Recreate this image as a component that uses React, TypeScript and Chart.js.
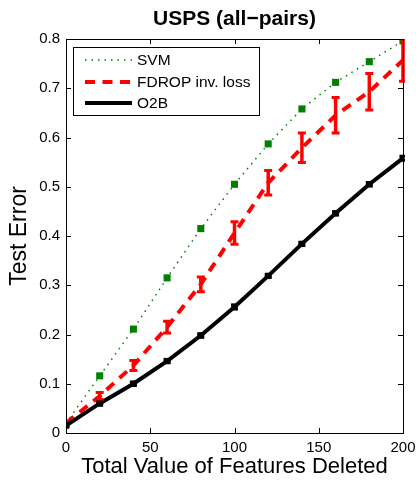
import React, { useEffect, useRef } from "react";
import { Chart, registerables } from "chart.js";

Chart.register(...registerables);

const xValues = [0, 20, 40, 60, 80, 100, 120, 140, 160, 180, 200];
const svmValues = [0.02, 0.116, 0.211, 0.315, 0.415, 0.505, 0.587, 0.658, 0.712, 0.754, 0.796];
const fdropValues = [0.02, 0.075, 0.137, 0.215, 0.302, 0.406, 0.508, 0.579, 0.645, 0.693, 0.757];
const fdropErr = [0, 0.007, 0.01, 0.012, 0.015, 0.023, 0.025, 0.03, 0.036, 0.037, 0.043];
const o2bValues = [0.015, 0.06, 0.1, 0.146, 0.198, 0.256, 0.319, 0.384, 0.446, 0.505, 0.558];
const o2bErr = [0.002, 0.003, 0.003, 0.003, 0.003, 0.004, 0.003, 0.003, 0.003, 0.003, 0.004];
const seriesLabels = ["SVM", "FDROP inv. loss", "O2B"];
const titleText = "USPS (all\u2212pairs)";
const xTitle = "Total Value of Features Deleted";
const yTitle = "Test Error";

const FONT = "'Liberation Sans', Arial, Helvetica, sans-serif";
const GREEN = "rgb(0,128,0)";
const RED = "rgb(255,0,0)";

const errorBarPlugin = {
  id: "errorBars",
  afterDatasetsDraw(chart: any) {
    const { ctx, scales, chartArea } = chart;
    const xs = scales.x;
    const ys = scales.y;
    ctx.save();
    ctx.beginPath();
    ctx.rect(chartArea.left, chartArea.top, chartArea.right - chartArea.left + 2, chartArea.bottom - chartArea.top + 2);
    ctx.clip();
    const drawBars = (vals: number[], errs: number[], color: string, lw: number, cap: number) => {
      ctx.strokeStyle = color;
      for (let i = 0; i < xValues.length; i++) {
        if (!errs[i]) continue;
        const px = xs.getPixelForValue(xValues[i]);
        const yHi = ys.getPixelForValue(vals[i] + errs[i]);
        const yLo = ys.getPixelForValue(vals[i] - errs[i]);
        ctx.lineWidth = lw;
        ctx.beginPath();
        ctx.moveTo(px, yHi);
        ctx.lineTo(px, yLo);
        ctx.stroke();
        ctx.lineWidth = 3;
        ctx.beginPath();
        ctx.moveTo(px - cap, yHi);
        ctx.lineTo(px + cap, yHi);
        ctx.moveTo(px - cap, yLo);
        ctx.lineTo(px + cap, yLo);
        ctx.stroke();
      }
    };
    drawBars(fdropValues, fdropErr, RED, 3.5, 4);
    drawBars(o2bValues, o2bErr, "#000", 2.5, 3.5);
    ctx.restore();
  },
};

const framePlugin = {
  id: "frame",
  afterDraw(chart: any) {
    const { ctx, scales, chartArea } = chart;
    const { left, right, top, bottom } = chartArea;
    ctx.save();
    // title centred over the plot area
    ctx.fillStyle = "#000";
    ctx.font = `bold 21px ${FONT}`;
    ctx.textAlign = "center";
    ctx.textBaseline = "alphabetic";
    ctx.fillText(titleText, (left + right) / 2, 25);

    ctx.strokeStyle = "#000";
    ctx.lineWidth = 1;
    ctx.strokeRect(Math.round(left) + 0.5, Math.round(top) + 0.5, Math.round(right - left), Math.round(bottom - top));
    const tl = 5;
    ctx.beginPath();
    scales.x.ticks.forEach((t: any) => {
      const px = Math.round(scales.x.getPixelForValue(t.value)) + 0.5;
      ctx.moveTo(px, bottom);
      ctx.lineTo(px, bottom - tl);
      ctx.moveTo(px, top);
      ctx.lineTo(px, top + tl);
    });
    scales.y.ticks.forEach((t: any) => {
      const py = Math.round(scales.y.getPixelForValue(t.value)) + 0.5;
      ctx.moveTo(left, py);
      ctx.lineTo(left + tl, py);
      ctx.moveTo(right, py);
      ctx.lineTo(right - tl, py);
    });
    ctx.stroke();

    // legend
    const bx = 73.5, by = 47.5, bw = 186, bh = 68;
    ctx.fillStyle = "#fff";
    ctx.fillRect(bx, by, bw, bh);
    ctx.strokeRect(bx, by, bw, bh);
    const rows = [60, 82, 103];
    const styles = [
      { color: GREEN, width: 1.5, dash: [1.5, 5] },
      { color: RED, width: 4, dash: [10, 7.5] },
      { color: "#000", width: 4, dash: [] as number[] },
    ];
    ctx.font = `15.5px ${FONT}`;
    ctx.textBaseline = "middle";
    ctx.textAlign = "left";
    rows.forEach((ry, i) => {
      const s = styles[i];
      ctx.strokeStyle = s.color;
      ctx.lineWidth = s.width;
      ctx.setLineDash(s.dash);
      ctx.beginPath();
      ctx.moveTo(85, ry);
      ctx.lineTo(132, ry);
      ctx.stroke();
      ctx.setLineDash([]);
      ctx.fillStyle = "#000";
      ctx.fillText(seriesLabels[i], 137, ry + 1);
    });
    ctx.restore();
  },
};

export default function App() {
  const canvasRef = useRef<HTMLCanvasElement>(null);

  useEffect(() => {
    const canvas = canvasRef.current;
    if (!canvas) return;
    const chart = new Chart(canvas, {
      type: "line",
      data: {
        datasets: [
          {
            label: seriesLabels[0],
            data: xValues.map((x, i) => ({ x, y: svmValues[i] })),
            borderColor: GREEN,
            backgroundColor: GREEN,
            borderWidth: 1.5,
            borderDash: [1.5, 5],
            pointStyle: "rect",
            pointRadius: xValues.map((x) => (x === 0 ? 0 : 5)),
            pointBorderWidth: 0,
            tension: 0,
            order: 3,
          },
          {
            label: seriesLabels[1],
            data: xValues.map((x, i) => ({ x, y: fdropValues[i] })),
            borderColor: RED,
            backgroundColor: RED,
            borderWidth: 4,
            borderDash: [10, 7.5],
            pointRadius: 0,
            tension: 0,
            order: 2,
          },
          {
            label: seriesLabels[2],
            data: xValues.map((x, i) => ({ x, y: o2bValues[i] })),
            borderColor: "#000",
            backgroundColor: "#000",
            borderWidth: 4,
            pointStyle: "rect",
            pointRadius: 4.5,
            pointBorderWidth: 0,
            tension: 0,
            order: 1,
          },
        ],
      },
      options: {
        responsive: false,
        animation: false,
        devicePixelRatio: 1,
        layout: { padding: { top: 39, right: 17, left: 0, bottom: 0 } },
        plugins: {
          legend: { display: false },
          tooltip: { enabled: false },
          title: { display: false },
        },
        scales: {
          x: {
            type: "linear",
            min: 0,
            max: 200,
            ticks: {
              stepSize: 50,
              color: "#000",
              font: { family: FONT, size: 15 },
              padding: 6,
              maxRotation: 0,
            },
            grid: { drawOnChartArea: false, drawTicks: false },
            border: { display: true, color: "#000", width: 1 },
            title: {
              display: true,
              text: xTitle,
              color: "#000",
              font: { family: FONT, size: 22 },
              padding: { top: 0, bottom: 0 },
            },
            afterFit: (s: any) => {
              s.height = 47;
              s.paddingLeft = 0;
              s.paddingRight = 0;
            },
          },
          y: {
            type: "linear",
            min: 0,
            max: 0.8,
            ticks: {
              stepSize: 0.1,
              color: "#000",
              font: { family: FONT, size: 15 },
              padding: 6,
              callback: (v: any) => (Number(v) === 0 ? "0" : Number(v).toFixed(1)),
            },
            grid: { drawOnChartArea: false, drawTicks: false },
            border: { display: true, color: "#000", width: 1 },
            title: {
              display: true,
              text: yTitle,
              color: "#000",
              font: { family: FONT, size: 23 },
              padding: { top: 6, bottom: 0 },
            },
            afterFit: (s: any) => {
              s.width = 66;
              s.paddingTop = 0;
              s.paddingBottom = 0;
            },
          },
        },
      },
      plugins: [errorBarPlugin, framePlugin],
    } as any);
    return () => chart.destroy();
  }, []);

  return (
    <div style={{ position: "fixed", left: 0, top: 0, width: 420, height: 480, background: "#fff" }}>
      <canvas ref={canvasRef} width={420} height={480} style={{ display: "block" }} />
    </div>
  );
}
